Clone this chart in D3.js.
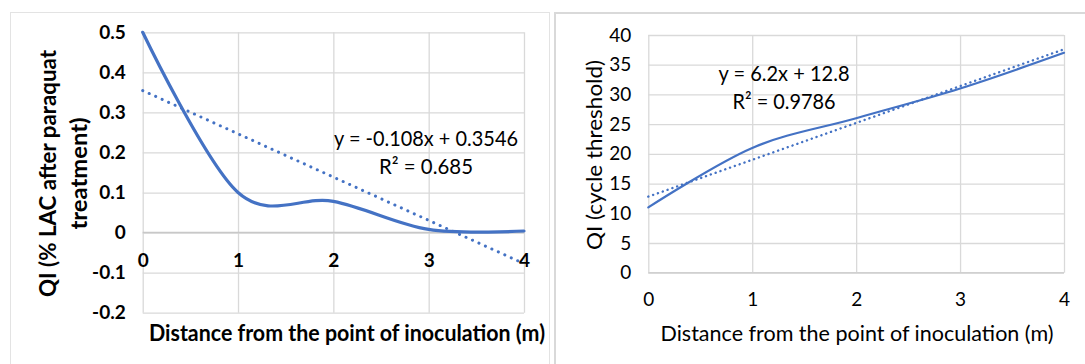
<!DOCTYPE html>
<html>
<head>
<meta charset="utf-8">
<script src="https://cdn.jsdelivr.net/npm/d3@7"></script>
<style>
  html, body { margin: 0; padding: 0; background: #fff; }
  svg { display: block; font-family: Lato, "Open Sans", sans-serif; }
</style>
</head>
<body>
<svg id="chart" width="1085" height="364"></svg>
<script>
// ---------- data ----------
const xValues = [0, 1, 2, 3, 4];
const xTickLabels = ["0", "1", "2", "3", "4"];

const leftValues = [0.5, 0.1, 0.078, 0.008, 0.004];
const leftYTicks = [-0.2, -0.1, 0, 0.1, 0.2, 0.3, 0.4, 0.5];
const leftYTickLabels = ["-0.2", "-0.1", "0", "0.1", "0.2", "0.3", "0.4", "0.5"];
const leftTrendCoef = [-0.108, 0.3546];
const leftEquation = ["y = -0.108x + 0.3546", "R\u00B2 = 0.685"];
const leftXTitle = "Distance from the point of inoculation (m)";
const leftYTitle = ["QI (% LAC after paraquat", "treatment)"];

const rightValues = [11, 21, 26, 31, 37];
const rightYTicks = [0, 5, 10, 15, 20, 25, 30, 35, 40];
const rightYTickLabels = ["0", "5", "10", "15", "20", "25", "30", "35", "40"];
const rightTrendCoef = [6.2, 12.8];
const rightEquation = ["y = 6.2x + 12.8", "R\u00B2 = 0.9786"];
const rightXTitle = "Distance from the point of inoculation  (m)";
const rightYTitle = ["QI (cycle threshold)"];

// ---------- drawing ----------
const svg = d3.select("#chart");
const blue = "#4472C4";
const grid = "#d9d9d9";

// panel frames
svg.append("rect").attr("x", 10.5).attr("y", 12.5).attr("width", 539).attr("height", 400)
  .attr("fill", "none").attr("stroke", "#e3e3e3").attr("stroke-width", 1);
svg.append("rect").attr("x", 555).attr("y", 13).attr("width", 560).attr("height", 400)
  .attr("fill", "none").attr("stroke", "#d9d9d9").attr("stroke-width", 2);

function drawChart(cfg) {
  const g = svg.append("g");
  const x = d3.scaleLinear().domain([0, 4]).range(cfg.xRange);
  const y = d3.scaleLinear().domain(cfg.yDomain).range(cfg.yRange);

  // horizontal gridlines
  g.append("g").attr("transform", `translate(${cfg.xRange[0]},0)`)
    .call(d3.axisLeft(y).tickValues(cfg.yTicks).tickSize(-(cfg.xRange[1] - cfg.xRange[0])).tickFormat(""))
    .call(a => a.select(".domain").remove())
    .call(a => a.selectAll("line").attr("stroke", grid).attr("stroke-width", 1.3));
  // vertical gridlines
  g.append("g").attr("transform", `translate(0,${cfg.yRange[0]})`)
    .call(d3.axisBottom(x).tickValues(xValues).tickSize(-(cfg.yRange[0] - cfg.yRange[1])).tickFormat(""))
    .call(a => a.select(".domain").remove())
    .call(a => a.selectAll("line").attr("stroke", grid).attr("stroke-width", 1.3));

  // horizontal axis line
  g.append("line").attr("x1", cfg.xRange[0]).attr("x2", cfg.xRange[1])
    .attr("y1", y(cfg.axisY)).attr("y2", y(cfg.axisY))
    .attr("stroke", cfg.axisColor).attr("stroke-width", 1.5);

  // y tick labels
  g.append("g").attr("transform", `translate(${cfg.xRange[0]},0)`)
    .call(d3.axisLeft(y).tickValues(cfg.yTicks).tickSize(0).tickPadding(cfg.yPad)
      .tickFormat((d, i) => cfg.yTickLabels[i]))
    .call(a => a.select(".domain").remove())
    .call(a => a.attr("font-size", cfg.tickSize).attr("font-family", "Lato, sans-serif"))
    .call(a => a.selectAll("text").attr("fill", "#000").style("font-size", cfg.tickSize + "px")
      .attr("font-weight", cfg.tickWeight));

  // x tick labels
  g.append("g").attr("transform", `translate(0,${y(cfg.axisY)})`)
    .call(d3.axisBottom(x).tickValues(xValues).tickSize(0).tickPadding(cfg.xPad)
      .tickFormat((d, i) => xTickLabels[i]))
    .call(a => a.select(".domain").remove())
    .call(a => a.attr("font-size", cfg.tickSize).attr("font-family", "Lato, sans-serif"))
    .call(a => a.selectAll("text").attr("fill", "#000").style("font-size", cfg.tickSize + "px")
      .attr("font-weight", cfg.tickWeight));

  // trendline (dotted)
  const trend = d3.line().x(d => x(d)).y(d => y(cfg.trend[0] * d + cfg.trend[1]));
  g.append("path").datum([0, 4]).attr("d", trend)
    .attr("fill", "none").attr("stroke", blue).attr("stroke-width", cfg.dotWidth)
    .attr("stroke-linecap", "round").attr("stroke-dasharray", cfg.dotDash);

  // data line (smoothed)
  const line = d3.line().x((d, i) => x(xValues[i])).y(d => y(d)).curve(d3.curveCardinal.tension(0));
  g.append("path").datum(cfg.values).attr("d", line)
    .attr("fill", "none").attr("stroke", blue).attr("stroke-width", cfg.lineWidth)
    .attr("stroke-linecap", "round");

  // equation
  cfg.equation.forEach((t, i) => {
    g.append("text").attr("x", cfg.eqX).attr("y", cfg.eqY[i]).attr("text-anchor", "middle")
      .attr("dominant-baseline", "central").attr("font-family", "Lato, sans-serif")
      .style("font-size", cfg.eqSize + "px").attr("fill", "#000")
      .attr("textLength", cfg.eqLen[i]).attr("lengthAdjust", "spacingAndGlyphs").text(t);
  });

  // x title
  g.append("text").attr("x", cfg.xTitlePos[0]).attr("y", cfg.xTitlePos[1]).attr("text-anchor", "middle")
    .attr("dominant-baseline", "central").attr("font-family", "Lato, sans-serif")
    .style("font-size", cfg.titleSize + "px").attr("font-weight", cfg.titleWeight).attr("fill", "#000")
    .attr("textLength", cfg.xTitleLen).attr("lengthAdjust", "spacingAndGlyphs").text(cfg.xTitle);

  // y title (rotated)
  cfg.yTitle.forEach((t, i) => {
    g.append("text").attr("transform", `translate(${cfg.yTitleX[i]},${cfg.yTitleY}) rotate(-90)`)
      .attr("text-anchor", "middle").attr("dominant-baseline", "central")
      .attr("font-family", "Lato, sans-serif").style("font-size", cfg.titleSize + "px")
      .attr("font-weight", cfg.titleWeight).attr("fill", "#000")
      .attr("textLength", cfg.yTitleLen[i]).attr("lengthAdjust", "spacingAndGlyphs").text(t);
  });
}

drawChart({
  xRange: [142.7, 524], yDomain: [-0.2, 0.5], yRange: [312.7, 32.3],
  yTicks: leftYTicks, yTickLabels: leftYTickLabels, axisY: 0, axisColor: "#c8c8c8",
  yPad: 17, xPad: 21, tickSize: 19, tickWeight: "bold",
  values: leftValues, trend: leftTrendCoef, lineWidth: 3.2, dotWidth: 3, dotDash: "0.1 7",
  equation: leftEquation, eqX: 426, eqY: [137, 165], eqSize: 22, eqLen: [184, 94],
  xTitle: leftXTitle, xTitlePos: [347, 332], xTitleLen: 396, titleSize: 22, titleWeight: "bold",
  yTitle: leftYTitle, yTitleX: [47, 78], yTitleY: 173.5, yTitleLen: [247, 112]
});

drawChart({
  xRange: [648.3, 1064], yDomain: [0, 40], yRange: [272.7, 35],
  yTicks: rightYTicks, yTickLabels: rightYTickLabels, axisY: 0, axisColor: "#d0d0d0",
  yPad: 17, xPad: 20, tickSize: 19, tickWeight: "normal",
  values: rightValues, trend: rightTrendCoef, lineWidth: 2.2, dotWidth: 2.4, dotDash: "0.1 5",
  equation: rightEquation, eqX: 784, eqY: [72, 100], eqSize: 22, eqLen: [131, 103],
  xTitle: rightXTitle, xTitlePos: [857, 332], xTitleLen: 393, titleSize: 22, titleWeight: "normal",
  yTitle: rightYTitle, yTitleX: [593], yTitleY: 155, yTitleLen: [190]
});
</script>
</body>
</html>
